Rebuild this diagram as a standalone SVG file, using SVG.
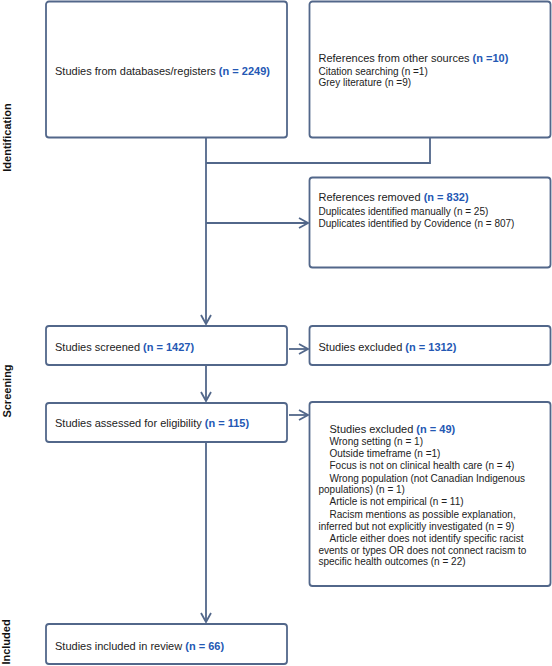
<svg xmlns="http://www.w3.org/2000/svg" width="552" height="666" viewBox="0 0 552 666">
<defs>
<style>
.box{fill:#fff;stroke:#52678a;stroke-width:1.8}
.ln{fill:none;stroke:#52678a;stroke-width:1.8}
text{font-family:"Liberation Sans",Arial,sans-serif;font-size:11px;fill:#222}
.s{font-size:10px}
.b{font-weight:bold;fill:#2458b4}
.side{font-weight:bold;fill:#111}
</style>
<marker id="ah" viewBox="0 0 12 12" refX="11" refY="6" markerWidth="12" markerHeight="12" markerUnits="userSpaceOnUse" orient="auto">
<polyline points="2,1 11,6 2,11" fill="none" stroke="#52678a" stroke-width="1.8"/>
</marker>
</defs>
<rect width="552" height="666" fill="#fff"/>
<g id="labels">
<text class="side" transform="translate(10.5,137.5) rotate(-90)" text-anchor="middle">Identification</text>
<text class="side" transform="translate(11,391) rotate(-90)" text-anchor="middle">Screening</text>
<text class="side" transform="translate(10,642) rotate(-90)" text-anchor="middle">Included</text>
</g>
<g id="connectors">
<polyline class="ln" points="430,138 430,163 206,163"/>
<line class="ln" x1="206" y1="138" x2="206" y2="324" marker-end="url(#ah)"/>
<line class="ln" x1="206" y1="223" x2="308" y2="223" marker-end="url(#ah)"/>
<line class="ln" x1="289" y1="349" x2="308" y2="349" marker-end="url(#ah)"/>
<line class="ln" x1="206" y1="365" x2="206" y2="401" marker-end="url(#ah)"/>
<line class="ln" x1="289" y1="415" x2="308" y2="415" marker-end="url(#ah)"/>
<line class="ln" x1="206" y1="442" x2="206" y2="622" marker-end="url(#ah)"/>
</g>
<g id="n1">
<rect class="box" x="46" y="1.5" width="241" height="136" rx="3"/>
<text x="55" y="75">Studies from databases/registers <tspan class="b">(n = 2249)</tspan></text>
</g>
<g id="n2">
<rect class="box" x="309.5" y="1.5" width="241" height="136" rx="3"/>
<text x="318.5" y="62">References from other sources <tspan class="b">(n =10)</tspan></text>
<text class="s" x="318.5" y="74.5">Citation searching (n =1)</text>
<text class="s" x="318.5" y="86">Grey literature (n =9)</text>
</g>
<g id="n3">
<rect class="box" x="309.5" y="177.5" width="241" height="90" rx="3"/>
<text x="318.5" y="201">References removed <tspan class="b">(n = 832)</tspan></text>
<text class="s" x="318.5" y="215">Duplicates identified manually (n = 25)</text>
<text class="s" x="318.5" y="226.5">Duplicates identified by Covidence (n = 807)</text>
</g>
<g id="n4">
<rect class="box" x="46" y="326" width="241" height="39" rx="3"/>
<text x="55" y="351">Studies screened <tspan class="b">(n = 1427)</tspan></text>
</g>
<g id="n5">
<rect class="box" x="309.5" y="326" width="241" height="39" rx="3"/>
<text x="318.5" y="351">Studies excluded <tspan class="b">(n = 1312)</tspan></text>
</g>
<g id="n6">
<rect class="box" x="46" y="403" width="241" height="39" rx="3"/>
<text x="55" y="427">Studies assessed for eligibility <tspan class="b">(n = 115)</tspan></text>
</g>
<g id="n7">
<rect class="box" x="309.5" y="402" width="241" height="184" rx="3"/>
<text x="329.5" y="433">Studies excluded <tspan class="b">(n = 49)</tspan></text>
<text class="s" x="329.5" y="445">Wrong setting (n = 1)</text>
<text class="s" x="329.5" y="457">Outside timeframe (n =1)</text>
<text class="s" x="329.5" y="469">Focus is not on clinical health care (n = 4)</text>
<text class="s" x="329.5" y="481.5">Wrong population (not Canadian Indigenous</text>
<text class="s" x="318.5" y="493">populations) (n = 1)</text>
<text class="s" x="329.5" y="505">Article is not empirical (n = 11)</text>
<text class="s" x="329.5" y="518">Racism mentions as possible explanation,</text>
<text class="s" x="318.5" y="530">inferred but not explicitly investigated (n = 9)</text>
<text class="s" x="329.5" y="541.5">Article either does not identify specific racist</text>
<text class="s" x="318.5" y="553.5">events or types OR does not connect racism to</text>
<text class="s" x="318.5" y="565">specific health outcomes (n = 22)</text>
</g>
<g id="n8">
<rect class="box" x="46" y="624" width="241" height="40" rx="3"/>
<text x="55" y="650">Studies included in review <tspan class="b">(n = 66)</tspan></text>
</g>
</svg>
